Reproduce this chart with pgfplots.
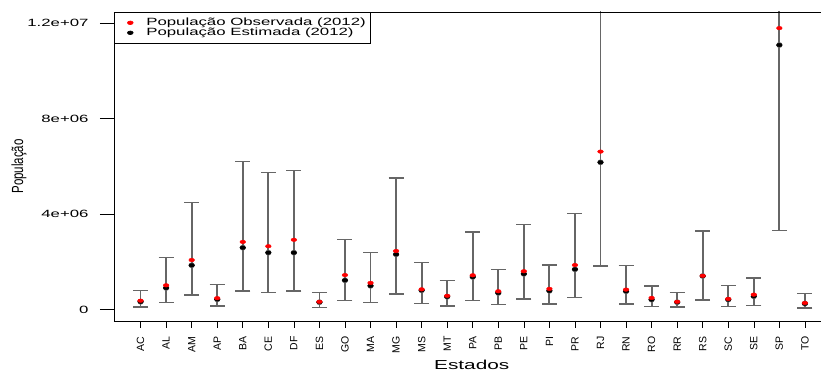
\documentclass[border=0pt]{standalone}
\usepackage{fontspec}
\setmainfont{Liberation Sans}[FakeStretch=1.6]
\newfontfamily\rotfont{Liberation Sans}
\usepackage{pgfplots}
\usepackage{pgfplotstable}
\pgfplotsset{compat=1.18}
\definecolor{barcol}{rgb}{0.4,0.4,0.4}
\pgfplotstableread{
x obs est lo hi
0 365000 320000 100000 800000
1 1010000 900000 280000 2190000
2 2070000 1850000 600000 4490000
3 470000 420000 140000 1050000
4 2830000 2590000 770000 6210000
5 2650000 2380000 720000 5750000
6 2920000 2380000 770000 5840000
7 320000 300000 90000 720000
8 1440000 1220000 360000 2940000
9 1110000 990000 300000 2400000
10 2450000 2310000 650000 5510000
11 840000 800000 260000 1960000
12 570000 530000 140000 1220000
13 1430000 1360000 380000 3250000
14 760000 690000 210000 1670000
15 1600000 1490000 440000 3550000
16 860000 780000 230000 1860000
17 1860000 1680000 490000 4030000
18 6620000 6170000 1820000 13500000
19 830000 760000 230000 1830000
20 480000 410000 130000 980000
21 320000 300000 100000 720000
22 1410000 1400000 390000 3290000
23 440000 410000 130000 990000
24 620000 550000 170000 1320000
25 11800000 11090000 3320000 20000000
26 270000 240000 60000 660000
}\datatab
\begin{document}
\begin{tikzpicture}
\begin{axis}[
  scale only axis,
  width=707pt, height=309pt,
  xmin=-1.04, xmax=26.63,
  ymin=-487000, ymax=12476000,
  axis lines=left,
  axis line style={-, black, line width=0.8pt},
  tick align=outside,
  tick style={black, line width=0.6pt},
  xtick=data,
  xticklabels={AC,AL,AM,AP,BA,CE,DF,ES,GO,MA,MG,MS,MT,PA,PB,PE,PI,PR,RJ,RN,RO,RR,RS,SC,SE,SP,TO},
  xtick style={/pgfplots/major tick length=7pt},
  xticklabel style={font=\rotfont\fontsize{10.5}{10.5}\selectfont, rotate=90, anchor=east, inner sep=0pt},
  xticklabel shift=11pt,
  ytick={0,4000000,8000000,12000000},
  yticklabels={{\mbox{0}},{\mbox{4e+06}},{\mbox{8e+06}},{\mbox{1.2e+07}}},
  scaled y ticks=false,
  ytick style={/pgfplots/major tick length=14pt},
  yticklabel style={font=\fontsize{10.5}{10.5}\selectfont, anchor=east, inner sep=0pt, xshift=-21pt},
  ylabel={\scalebox{1}[1.4]{\rotfont\fontsize{11.5}{11.5}\selectfont População}},
  every axis y label/.style={at={(axis description cs:-0.1344,0.5)}, rotate=90, anchor=center},
  xlabel={\fontsize{13}{13}\selectfont Estados},
  every axis x label/.style={at={(axis description cs:0.506,-0.142)}, anchor=center},
  legend style={at={(0,1)}, anchor=north west, draw=black, line width=0.6pt,
    font=\fontsize{10.5}{10.5}\selectfont, inner xsep=5pt, inner ysep=5.5pt, row sep=0pt,
    nodes={inner sep=0pt, text height=7.5pt, text depth=2.5pt}},
  legend cell align=left,
  legend image code/.code={\path[draw=none, fill=none] (0pt,0pt) -- (27pt,0pt); \draw[#1] plot coordinates {(11pt,0pt)};},
]
\addlegendimage{only marks, mark=*, red, mark options={xscale=1.6, draw=red, fill=red}, mark size=1.8pt}
\addlegendentry{População Observada (2012)}
\addlegendimage{only marks, mark=*, black, mark options={xscale=1.6}, mark size=1.8pt}
\addlegendentry{População Estimada (2012)}
\addplot[forget plot, only marks, mark=none, barcol, line width=1.8pt,
  error bars/y dir=both, error bars/y explicit,
  error bars/error bar style={barcol, line width=1.8pt},
  error bars/error mark=|,
  error bars/error mark options={barcol, line width=1.3pt, mark size=7.5pt}]
  table[x=x, y=est, y error plus expr=\thisrow{hi}-\thisrow{est}, y error minus expr=\thisrow{est}-\thisrow{lo}] {\datatab};
\addplot[forget plot, only marks, mark=*, black, mark options={xscale=1.6}, mark size=1.8pt] table[x=x, y=est] {\datatab};
\addplot[forget plot, only marks, mark=*, red, mark options={xscale=1.6, draw=red, fill=red}, mark size=1.8pt] table[x=x, y=obs] {\datatab};
\draw[black, line width=0.8pt] (rel axis cs:0,1) -- (rel axis cs:1,1);
\end{axis}
\pgfresetboundingbox
\useasboundingbox (-114pt,-50pt) rectangle (707pt,321pt);
\end{tikzpicture}
\end{document}
